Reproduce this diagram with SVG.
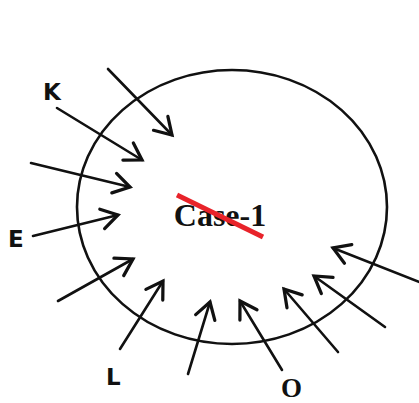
<svg xmlns="http://www.w3.org/2000/svg" width="419" height="403" viewBox="0 0 419 403">
<style>
.ar{stroke:#111;stroke-width:2.6;fill:none;stroke-linecap:round;marker-end:url(#h)}
.lb{font-family:"DejaVu Sans",sans-serif;font-weight:bold;font-size:23px;fill:#111}
.sf{font-family:"Liberation Serif",serif;font-weight:bold;fill:#111}
</style>
<defs>
<marker id="h" markerUnits="userSpaceOnUse" markerWidth="30" markerHeight="30" viewBox="-16 -12 20 24" refX="0" refY="0" orient="auto">
<path d="M-13,-8 L0,0 L-13,8" fill="none" stroke="#111" stroke-width="2.6" stroke-linecap="round" stroke-linejoin="miter"/>
</marker>
</defs>
<rect width="419" height="403" fill="#fff"/>
<g id="circle">
<ellipse cx="232" cy="207" rx="155" ry="137" fill="none" stroke="#111" stroke-width="2.6"/>
<text class="sf" x="220" y="226" font-size="32" text-anchor="middle">Case-1</text>
<line x1="177" y1="195" x2="263" y2="237" stroke="#e8232a" stroke-width="5"/>
</g>
<g id="labels">
<text class="lb" x="43" y="100">K</text>
<text class="lb" x="8" y="247">E</text>
<text class="lb" x="106" y="385">L</text>
<text class="sf" x="281" y="397" font-size="27">O</text>
</g>
<g id="connectors">
<line class="ar" x1="108" y1="69" x2="172" y2="135"/>
<line class="ar" x1="57" y1="108" x2="142" y2="160"/>
<line class="ar" x1="31" y1="163" x2="130" y2="187"/>
<line class="ar" x1="33" y1="236" x2="118" y2="215"/>
<line class="ar" x1="58" y1="301" x2="133" y2="259"/>
<line class="ar" x1="120" y1="349" x2="163" y2="281"/>
<line class="ar" x1="188" y1="374" x2="210" y2="302"/>
<line class="ar" x1="282" y1="370" x2="240" y2="301"/>
<line class="ar" x1="338" y1="352" x2="284" y2="289"/>
<line class="ar" x1="385" y1="327" x2="314" y2="276"/>
<line class="ar" x1="422" y1="283" x2="333" y2="248"/>
</g>
</svg>
